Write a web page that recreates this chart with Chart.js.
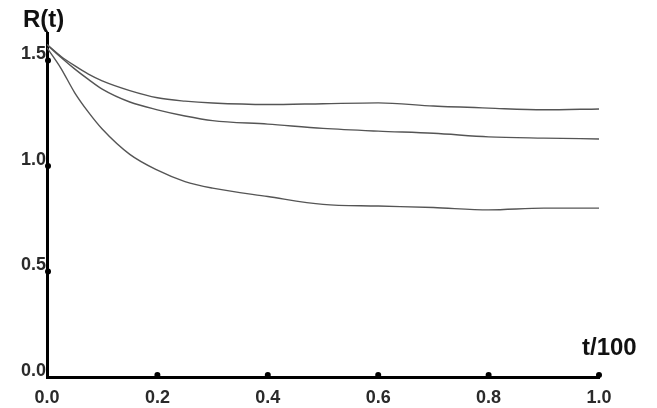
<!DOCTYPE html>
<html>
<head>
<meta charset="utf-8">
<script src="https://cdn.jsdelivr.net/npm/chart.js@4"></script>
<style>
  html, body { margin: 0; padding: 0; background: #fff; }
  #wrap { width: 657px; height: 408px; }
</style>
</head>
<body>
<div id="wrap"><canvas id="chart" width="657" height="408"></canvas></div>
<script>
// t/100 sample points, shared by the three curves
const tValues = [0, 0.025, 0.05, 0.075, 0.1, 0.15, 0.2, 0.25, 0.3, 0.4, 0.5, 0.6, 0.7, 0.8, 0.9, 1.0];
// R(t)
const upperCurve  = [1.575, 1.52, 1.475, 1.435, 1.403, 1.357, 1.323, 1.307, 1.298, 1.291, 1.295, 1.299, 1.284, 1.274, 1.266, 1.27];
const middleCurve = [1.575, 1.515, 1.46, 1.41, 1.364, 1.303, 1.266, 1.237, 1.215, 1.198, 1.178, 1.165, 1.155, 1.138, 1.132, 1.128];
const lowerCurve  = [1.56, 1.464, 1.348, 1.255, 1.175, 1.055, 0.98, 0.926, 0.895, 0.855, 0.818, 0.81, 0.803, 0.792, 0.80, 0.80];
const xTicks = [0, 0.2, 0.4, 0.6, 0.8, 1.0];
const yTicks = [0, 0.5, 1.0, 1.5];

function toPoints(values) {
    return values.map(function(v, i) { return { x: tValues[i], y: v }; });
}

const tickFont = { family: '"Liberation Sans", Arial, sans-serif', size: 18, weight: 'bold' };

// little black dots on the axes + axis names
const axisDecor = {
    id: 'axisDecor',
    afterDraw(chart) {
        const ctx = chart.ctx;
        const xs = chart.scales.x, ys = chart.scales.y;
        const area = chart.chartArea;
        ctx.save();
        ctx.fillStyle = '#000';
        xTicks.forEach(function(v) {
            if (v === 0) return;
            ctx.beginPath();
            ctx.arc(xs.getPixelForValue(v), area.bottom - 2, 3, 0, Math.PI * 2);
            ctx.fill();
        });
        yTicks.forEach(function(v) {
            if (v === 0) return;
            ctx.beginPath();
            ctx.arc(area.left + 1, ys.getPixelForValue(v), 3, 0, Math.PI * 2);
            ctx.fill();
        });
        ctx.font = 'bold 24px "Liberation Sans", Arial, sans-serif';
        ctx.textBaseline = 'alphabetic';
        ctx.textAlign = 'left';
        ctx.fillStyle = '#111';
        ctx.fillText('R(t)', 23, 27);
        ctx.fillText('t/100', 582, 355);
        ctx.restore();
    }
};

new Chart(document.getElementById('chart'), {
    type: 'line',
    data: {
        datasets: [
            { data: toPoints(upperCurve) },
            { data: toPoints(middleCurve) },
            { data: toPoints(lowerCurve) }
        ]
    },
    options: {
        responsive: false,
        animation: false,
        layout: { padding: { top: 33, right: 58, left: 0, bottom: 0 } },
        elements: {
            line: { borderColor: '#555', borderWidth: 1.4, tension: 0.4, cubicInterpolationMode: 'monotone' },
            point: { radius: 0 }
        },
        plugins: { legend: { display: false }, tooltip: { enabled: false } },
        scales: {
            x: {
                type: 'linear',
                min: 0,
                max: 1.0,
                afterBuildTicks(scale) { scale.ticks = xTicks.map(function(v) { return { value: v }; }); },
                afterFit(scale) { scale.height = 31; },
                grid: { display: false, drawTicks: false },
                border: { display: true, color: '#000', width: 3 },
                ticks: {
                    padding: 10,
                    color: '#2a2a2a',
                    font: tickFont,
                    callback: function(v) { return Number(v).toFixed(1); }
                }
            },
            y: {
                type: 'linear',
                min: 0,
                max: 1.63,
                afterBuildTicks(scale) { scale.ticks = yTicks.map(function(v) { return { value: v }; }); },
                afterFit(scale) { scale.width = 47; },
                grid: { display: false, drawTicks: false },
                border: { display: true, color: '#000', width: 3 },
                ticks: {
                    padding: 1,
                    labelOffset: -6,
                    color: '#2a2a2a',
                    font: tickFont,
                    callback: function(v) { return Number(v).toFixed(1); }
                }
            }
        }
    },
    plugins: [axisDecor]
});
</script>
</body>
</html>
